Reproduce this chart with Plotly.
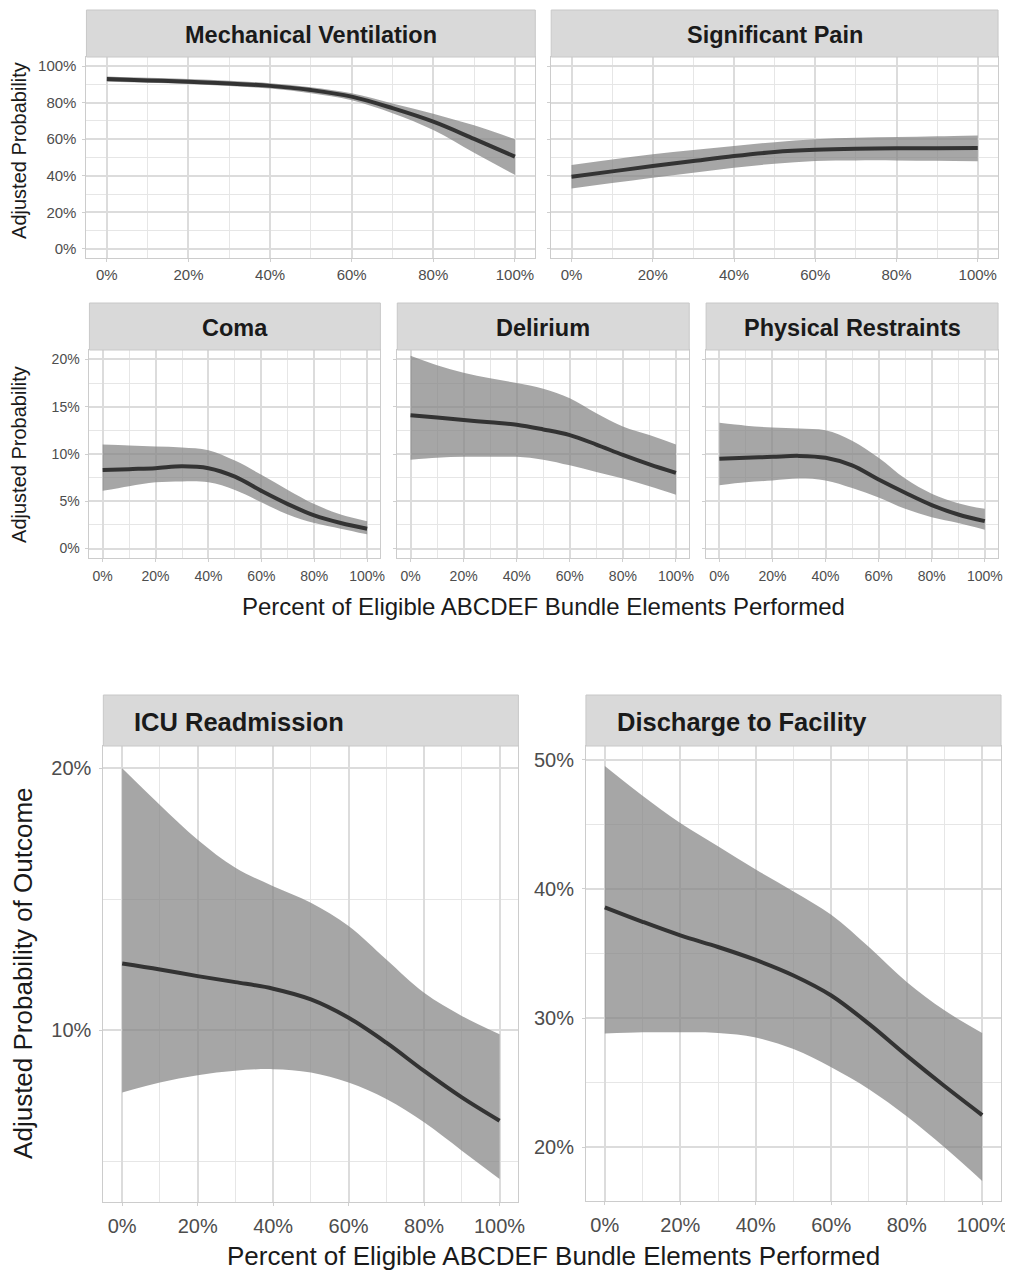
import plotly.graph_objects as go

W, H = 1013, 1272
OFF = 8                      # page body margin of the html page
FW, FH = W - OFF, H - OFF    # figure size so that it ends at the window edge

# ---------------- data (x = percent of bundle elements performed) ----------------
X = [0, 10, 20, 30, 40, 50, 60, 70, 80, 90, 100]

mv_fit = [92.9, 92.2, 91.5, 90.5, 89.2, 86.9, 83.3, 77.0, 69.6, 60.2, 50.5]
mv_hi = [94.3, 93.6, 92.9, 92.0, 90.7, 88.4, 85.1, 79.6, 74.0, 67.6, 60.0]
mv_lo = [91.5, 90.9, 90.2, 89.1, 87.7, 85.1, 81.3, 74.2, 65.0, 52.6, 40.5]

sp_fit = [39.5, 42.4, 45.3, 48.1, 50.8, 53.0, 54.2, 54.8, 55.0, 55.1, 55.2]
sp_hi = [45.9, 48.9, 51.8, 54.1, 56.3, 58.4, 60.0, 60.8, 61.2, 61.6, 62.1]
sp_lo = [33.1, 36.0, 38.9, 41.7, 44.4, 46.6, 48.1, 48.4, 48.4, 48.2, 48.0]

coma_fit = [8.3, 8.4, 8.5, 8.7, 8.5, 7.6, 6.1, 4.7, 3.5, 2.7, 2.1]
coma_hi = [11.0, 10.9, 10.8, 10.7, 10.4, 9.3, 7.8, 6.2, 4.7, 3.6, 2.9]
coma_lo = [6.1, 6.6, 7.0, 7.1, 7.0, 6.2, 4.9, 3.6, 2.7, 2.1, 1.5]

del_fit = [14.1, 13.85, 13.6, 13.35, 13.1, 12.6, 12.0, 11.0, 9.9, 8.9, 8.0]
del_hi = [20.4, 19.4, 18.6, 18.0, 17.5, 16.9, 15.9, 14.3, 12.9, 12.0, 11.0]
del_lo = [9.4, 9.6, 9.7, 9.7, 9.7, 9.4, 8.8, 8.1, 7.4, 6.6, 5.7]

pr_fit = [9.5, 9.6, 9.7, 9.8, 9.6, 8.8, 7.3, 5.9, 4.6, 3.6, 2.9]
pr_hi = [13.3, 13.0, 12.8, 12.7, 12.5, 11.4, 9.6, 7.4, 5.8, 4.8, 4.2]
pr_lo = [6.7, 7.0, 7.2, 7.4, 7.2, 6.4, 5.4, 4.2, 3.3, 2.7, 2.0]

icu_fit = [12.55, 12.32, 12.07, 11.84, 11.59, 11.18, 10.48, 9.53, 8.45, 7.44, 6.55]
icu_hi = [20.0, 18.6, 17.27, 16.2, 15.5, 14.87, 13.98, 12.7, 11.43, 10.55, 9.85]
icu_lo = [7.63, 8.01, 8.29, 8.46, 8.52, 8.39, 8.01, 7.38, 6.49, 5.41, 4.33]

dis_fit = [38.57, 37.45, 36.4, 35.5, 34.5, 33.3, 31.75, 29.55, 27.1, 24.75, 22.5]
dis_hi = [49.5, 47.2, 45.1, 43.3, 41.5, 39.8, 38.0, 35.5, 32.8, 30.6, 28.85]
dis_lo = [28.8, 28.9, 28.9, 28.85, 28.5, 27.6, 26.2, 24.5, 22.4, 20.0, 17.4]

x_ticks = [0, 20, 40, 60, 80, 100]
top_y_ticks = [0, 20, 40, 60, 80, 100]
mid_y_ticks = [0, 5, 10, 15, 20]
icu_y_ticks = [10, 20]
dis_y_ticks = [20, 30, 40, 50]

titles = ["Mechanical Ventilation", "Significant Pain", "Coma", "Delirium",
          "Physical Restraints", "ICU Readmission", "Discharge to Facility"]
x_title = "Percent of Eligible ABCDEF Bundle Elements Performed"
y_title_small = "Adjusted Probability"
y_title_big = "Adjusted Probability of Outcome"

# ---------------- layout helpers ----------------
FONT = "Liberation Sans, Arial, sans-serif"
GRID = "#dcdcdc"
GRID_MINOR = "#e6e6e6"
BORDER = "#cccccc"
STRIP_FILL = "#d9d9d9"
TICK_COL = "#4d4d4d"


def fx(p):
    return (p - OFF) / FW


def fy(p):
    return 1 - (p - OFF) / FH


def pct(vals):
    return [f"{v:g}%" for v in vals]


panels = [
    dict(fit=mv_fit, lo=mv_lo, hi=mv_hi, box=(87, 539, 57, 258), st=10, yr=[-5, 105],
         yt=top_y_ticks, ym=10, showy=True, align="center", size="top"),
    dict(fit=sp_fit, lo=sp_lo, hi=sp_hi, box=(555, 1005, 57, 258), st=10, yr=[-5, 105],
         yt=top_y_ticks, ym=10, showy=False, align="center", size="top"),
    dict(fit=coma_fit, lo=coma_lo, hi=coma_hi, box=(90, 383, 350, 558), st=303, yr=[-1, 21],
         yt=mid_y_ticks, ym=2.5, showy=True, align="center", size="mid"),
    dict(fit=del_fit, lo=del_lo, hi=del_hi, box=(400, 694, 350, 558), st=303, yr=[-1, 21],
         yt=mid_y_ticks, ym=2.5, showy=False, align="center", size="mid"),
    dict(fit=pr_fit, lo=pr_lo, hi=pr_hi, box=(711, 1005, 350, 558), st=303, yr=[-1, 21],
         yt=mid_y_ticks, ym=2.5, showy=False, align="center", size="mid"),
    dict(fit=icu_fit, lo=icu_lo, hi=icu_hi, box=(104, 522, 746, 1202), st=695, yr=[3.45, 20.85],
         yt=icu_y_ticks, ym=5, showy=True, align="left", size="big"),
    dict(fit=dis_fit, lo=dis_lo, hi=dis_hi, box=(590, 1008, 746, 1201), st=695, yr=[15.85, 51.05],
         yt=dis_y_ticks, ym=5, showy=True, align="left", size="big"),
]

tick_sizes = {"top": 15, "mid": 14, "big": 20}
x_standoffs = {"top": 0, "mid": 2, "big": 3}
y_standoffs = {"top": 3, "mid": 3, "big": 4}

fig = go.Figure()
shapes = []
annotations = []

for i, p in enumerate(panels):
    n = i + 1
    xs = "" if n == 1 else str(n)
    xref, yref = "x" + xs, "y" + xs
    l, r, t, b = p["box"]
    tsize = tick_sizes[p["size"]]

    # confidence ribbon
    fig.add_trace(go.Scatter(x=X, y=p["lo"], mode="lines", line=dict(width=0, shape="spline", smoothing=1.0),
                             hoverinfo="skip", showlegend=False, xaxis=xref, yaxis=yref))
    fig.add_trace(go.Scatter(x=X, y=p["hi"], mode="lines", line=dict(width=0, shape="spline", smoothing=1.0),
                             fill="tonexty", fillcolor="rgba(128,128,128,0.70)",
                             hoverinfo="skip", showlegend=False, xaxis=xref, yaxis=yref))
    # fitted line
    fig.add_trace(go.Scatter(x=X, y=p["fit"], mode="lines",
                             line=dict(color="#333333", width=4, shape="spline", smoothing=1.0),
                             showlegend=False, xaxis=xref, yaxis=yref))

    common = dict(showline=True, mirror=True, linecolor=BORDER, linewidth=1,
                  showgrid=True, gridcolor=GRID, gridwidth=1.5, zeroline=False,
                  ticks="outside", ticklen=3, tickcolor="#cfcfcf",
                  tickfont=dict(family=FONT, size=tsize, color=TICK_COL))
    fig.layout["xaxis" + xs] = dict(
        domain=[fx(l), fx(r)], anchor=yref, range=[-5, 105],
        tickmode="array", tickvals=x_ticks, ticktext=pct(x_ticks),
        ticklabelstandoff=x_standoffs[p["size"]],
        minor=dict(dtick=10, tick0=0, showgrid=True, gridcolor=GRID_MINOR, gridwidth=1.2, ticklen=0),
        **common)
    fig.layout["yaxis" + xs] = dict(
        domain=[fy(b), fy(t)], anchor=xref, range=p["yr"],
        tickmode="array", tickvals=p["yt"], ticktext=pct(p["yt"]), showticklabels=p["showy"],
        ticklabelstandoff=y_standoffs[p["size"]],
        minor=dict(dtick=p["ym"], tick0=0, showgrid=True, gridcolor=GRID_MINOR, gridwidth=1.2, ticklen=0),
        **common)

    # facet strip
    shapes.append(dict(type="rect", xref="paper", yref="paper",
                       x0=fx(l), x1=fx(r), y0=fy(t), y1=fy(p["st"]),
                       fillcolor=STRIP_FILL, line=dict(color="#c8c8c8", width=1), layer="above"))
    if p["align"] == "center":
        annotations.append(dict(text="<b>" + titles[i] + "</b>", xref="paper", yref="paper",
                                x=fx((l + r) / 2), y=fy((t + p["st"]) / 2 + 1), xanchor="center", yanchor="middle",
                                showarrow=False, font=dict(family=FONT, size=23.5, color="#1a1a1a")))
    else:
        annotations.append(dict(text="<b>" + titles[i] + "</b>", xref="paper", yref="paper",
                                x=fx(l + 29), y=fy((t + p["st"]) / 2 + 1), xanchor="left", yanchor="middle",
                                showarrow=False, font=dict(family=FONT, size=25.5, color="#1a1a1a")))

# axis titles
annotations += [
    dict(text=y_title_small, xref="paper", yref="paper", x=fx(19), y=fy(150), textangle=-90,
         xanchor="center", yanchor="middle", showarrow=False, font=dict(family=FONT, size=20, color="#1a1a1a")),
    dict(text=y_title_small, xref="paper", yref="paper", x=fx(19), y=fy(454), textangle=-90,
         xanchor="center", yanchor="middle", showarrow=False, font=dict(family=FONT, size=20, color="#1a1a1a")),
    dict(text=x_title, xref="paper", yref="paper", x=fx(547), y=fy(606),
         xanchor="center", yanchor="middle", showarrow=False, font=dict(family=FONT, size=24, color="#1a1a1a")),
    dict(text=y_title_big, xref="paper", yref="paper", x=fx(23), y=fy(973), textangle=-90,
         xanchor="center", yanchor="middle", showarrow=False, font=dict(family=FONT, size=26, color="#1a1a1a")),
    dict(text=x_title, xref="paper", yref="paper", x=fx(557), y=fy(1256),
         xanchor="center", yanchor="middle", showarrow=False, font=dict(family=FONT, size=26, color="#1a1a1a")),
]

fig.update_layout(width=FW, height=FH, margin=dict(l=0, r=0, t=0, b=0),
                  paper_bgcolor="white", plot_bgcolor="white",
                  shapes=shapes, annotations=annotations, showlegend=False,
                  font=dict(family=FONT))

fig.write_html("out.html")
